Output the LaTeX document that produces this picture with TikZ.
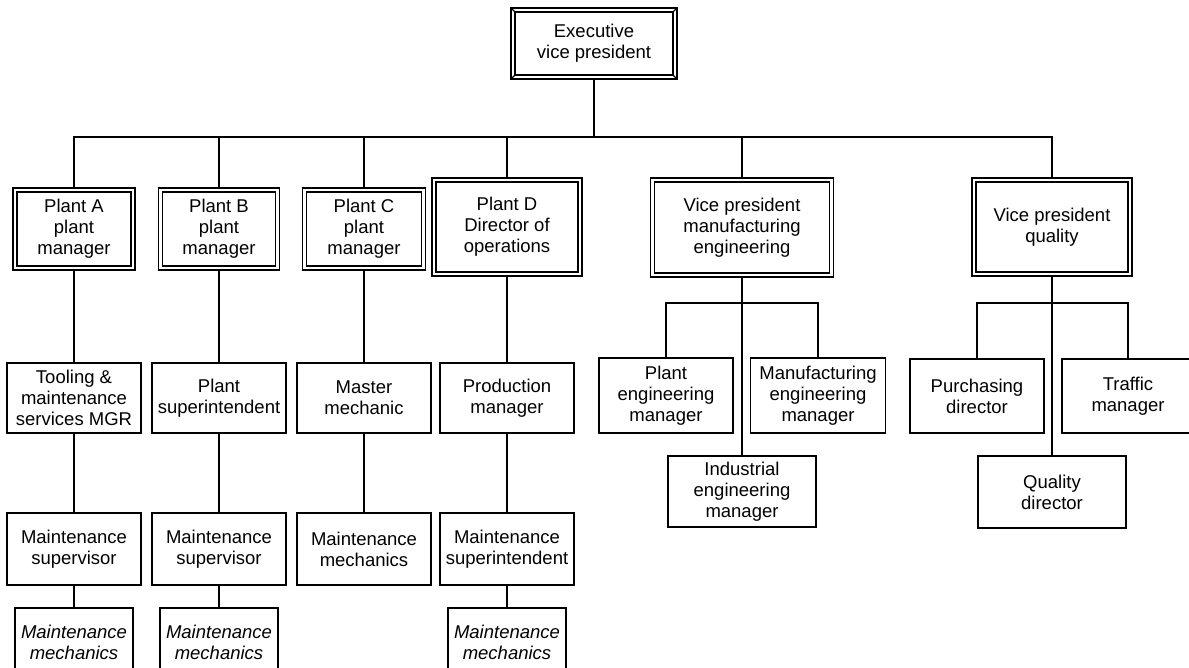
\documentclass[tikz,border=0pt]{standalone}
\usepackage{fontspec}
\setmainfont{Liberation Sans}
\usetikzlibrary{calc}
\begin{document}
\begin{tikzpicture}[x=1pt,y=-1pt,line width=1.1pt,
  box/.style={draw,rectangle,inner sep=0pt,align=center,
    font=\fontsize{18.5}{21}\selectfont},
  dbl/.style={box,outer sep=4pt},
  itbox/.style={box,minimum width=118pt,minimum height=68pt,
    font=\fontsize{18.5}{21}\selectfont\itshape}]
\useasboundingbox (0,0) rectangle (1189,668);
\clip (0,0) rectangle (1189,668);
% top
\node[dbl,minimum width=158pt,minimum height=63pt] (ex) at (594,43.5) {Executive\\vice president};
% level 1
\node[dbl,minimum width=114pt,minimum height=74pt] (pa) at (74,229) {Plant A\\plant\\manager};
\node[dbl,minimum width=113pt,minimum height=74pt] (pb) at (219,229) {Plant B\\plant\\manager};
\node[dbl,minimum width=115pt,minimum height=74pt] (pc) at (364,229) {Plant C\\plant\\manager};
\node[dbl,minimum width=142pt,minimum height=90pt] (pd) at (507,227) {Plant D\\Director of\\operations};
\node[dbl,minimum width=175pt,minimum height=91pt] (vm) at (742,227.5) {Vice president\\manufacturing\\engineering};
\node[dbl,minimum width=152pt,minimum height=90pt] (vq) at (1052,227) {Vice president\\quality};
% level 2
\node[box,minimum width=134pt,minimum height=70pt] (t1) at (74,398) {Tooling \&\\maintenance\\services MGR};
\node[box,minimum width=134pt,minimum height=70pt] (t2) at (219,398) {Plant\\superintendent};
\node[box,minimum width=134pt,minimum height=70pt] (t3) at (364,398) {Master\\mechanic};
\node[box,minimum width=134pt,minimum height=70pt] (t4) at (507,398) {Production\\manager};
% level 3
\node[box,minimum width=134pt,minimum height=72pt] (s1) at (74,549) {Maintenance\\supervisor};
\node[box,minimum width=134pt,minimum height=72pt] (s2) at (219,549) {Maintenance\\supervisor};
\node[box,minimum width=134pt,minimum height=72pt] (s3) at (364,549) {Maintenance\\mechanics};
\node[box,minimum width=134pt,minimum height=72pt] (s4) at (507,549) {Maintenance\\superintendent};
% level 4
\node[itbox] (m1) at (74,642) {Maintenance\\mechanics};
\node[itbox] (m2) at (219,642) {Maintenance\\mechanics};
\node[itbox] (m4) at (507,642) {Maintenance\\mechanics};
% manufacturing engineering
\node[box,minimum width=134pt,minimum height=75pt] (pe) at (666,395.5) {Plant\\engineering\\manager};
\node[box,minimum width=135pt,minimum height=75pt] (me) at (818,395.5) {Manufacturing\\engineering\\manager};
\node[box,minimum width=148pt,minimum height=71pt] (ie) at (742,491.5) {Industrial\\engineering\\manager};
% quality
\node[box,minimum width=134pt,minimum height=74pt] (pu) at (977,396) {Purchasing\\director};
\node[box,minimum width=132pt,minimum height=74pt] (tr) at (1128,396) {Traffic\\manager};
\node[box,minimum width=148pt,minimum height=72pt] (qd) at (1052,492) {Quality\\director};
% outer frames
\foreach \n in {ex,pa,pb,pc,pd,vm,vq}
  \draw (\n.north west) rectangle (\n.south east);
% bevel corners on executive box
\draw (ex.north west) -- ($(ex.north west)+(4,4)$);
\draw (ex.north east) -- ($(ex.north east)+(-4,4)$);
\draw (ex.south west) -- ($(ex.south west)+(4,-4)$);
\draw (ex.south east) -- ($(ex.south east)+(-4,-4)$);
% connectors
\coordinate (bus) at (594,137);
\coordinate (mb) at (742,303);
\coordinate (qb) at (1052,303);
\draw (ex.south) -- (bus);
\draw (pa.north) |- (vq.north |- bus) -- (vq.north);
\foreach \n in {pb,pc,pd,vm}
  \draw (\n.north) -- (\n.north |- bus);
\draw (pa.south) -- (t1.north);
\draw (pb.south) -- (t2.north);
\draw (pc.south) -- (t3.north);
\draw (pd.south) -- (t4.north);
\draw (t1.south) -- (s1.north);
\draw (t2.south) -- (s2.north);
\draw (t3.south) -- (s3.north);
\draw (t4.south) -- (s4.north);
\draw (s1.south) -- (m1.north);
\draw (s2.south) -- (m2.north);
\draw (s4.south) -- (m4.north);
\draw (vm.south) -- (ie.north);
\draw (pe.north) |- (me.north |- mb) -- (me.north);
\draw (vq.south) -- (qd.north);
\draw (pu.north) |- (tr.north |- qb) -- (tr.north);
\end{tikzpicture}
\end{document}
